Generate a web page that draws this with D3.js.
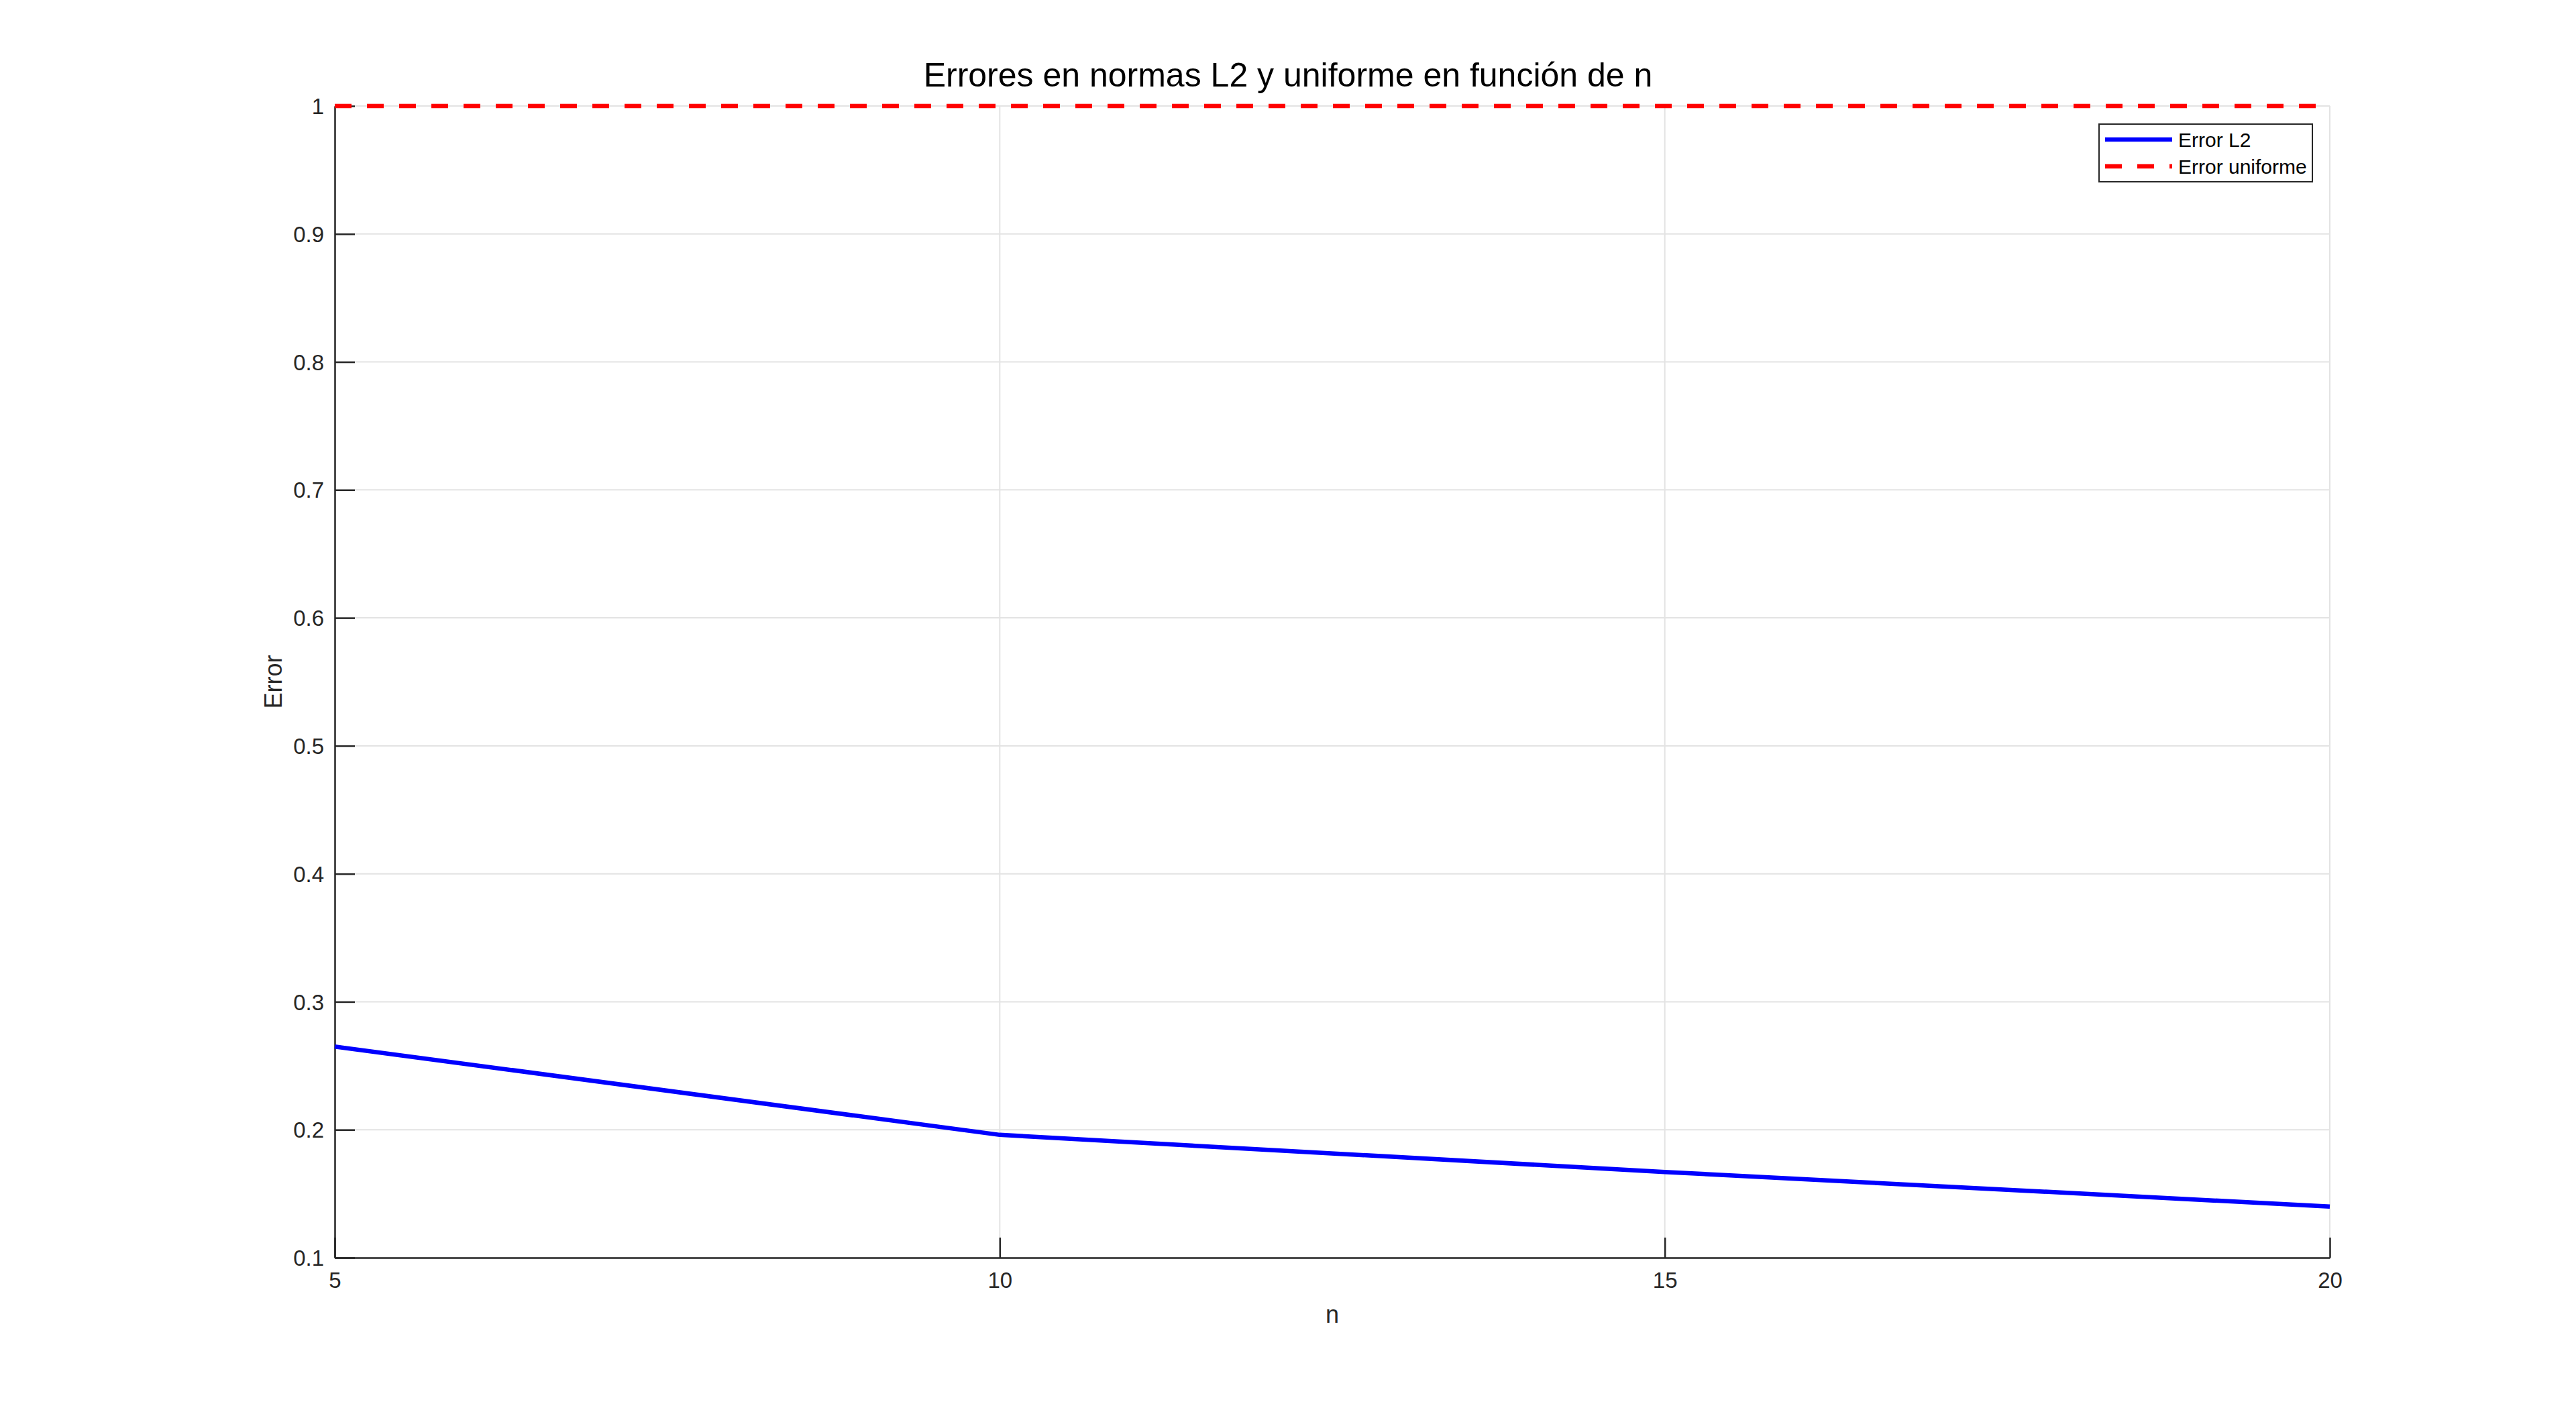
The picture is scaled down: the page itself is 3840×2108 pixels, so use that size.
<!DOCTYPE html>
<html>
<head>
<meta charset="utf-8">
<script src="https://cdn.jsdelivr.net/npm/d3@7"></script>
<style>
  body { margin: 0; background: #fff; }
  text { font-family: "Liberation Sans", Arial, sans-serif; fill: #262626; }
</style>
</head>
<body>
<svg id="chart" width="3840" height="2108"></svg>
<script>
const nValues = [5, 10, 15, 20];
const errorL2 = [0.265, 0.196, 0.167, 0.140];
const errorUniforme = [1, 1, 1, 1];
const xTicks = [5, 10, 15, 20];
const yTicks = [0.1, 0.2, 0.3, 0.4, 0.5, 0.6, 0.7, 0.8, 0.9, 1];
const seriesNames = ["Error L2", "Error uniforme"];

const svg = d3.select("#chart");
const margin = { left: 499, right: 3840 - 3473, top: 158, bottom: 2108 - 1875 };
const W = 3840, H = 2108;

const x = d3.scaleLinear().domain([5, 20]).range([margin.left, W - margin.right]);
const y = d3.scaleLinear().domain([0.1, 1]).range([H - margin.bottom, margin.top]);

// grid
svg.append("g")
  .selectAll("line")
  .data(xTicks)
  .enter()
  .append("line")
  .attr("x1", (d) => x(d))
  .attr("x2", (d) => x(d))
  .attr("y1", y(0.1))
  .attr("y2", y(1))
  .style("stroke", "#e3e3e3")
  .style("stroke-width", 2);

svg.append("g")
  .selectAll("line")
  .data(yTicks)
  .enter()
  .append("line")
  .attr("x1", x(5))
  .attr("x2", x(20))
  .attr("y1", (d) => y(d))
  .attr("y2", (d) => y(d))
  .style("stroke", "#e3e3e3")
  .style("stroke-width", 2);

// axes
const xAxis = d3.axisBottom(x).tickValues(xTicks).tickSizeInner(-30).tickSizeOuter(0).tickPadding(22);
const yAxis = d3.axisLeft(y).tickValues(yTicks).tickSizeInner(-30).tickSizeOuter(0).tickPadding(16)
  .tickFormat((d) => (d === 1 ? "1" : d3.format(".1f")(d)));

const gx = svg.append("g").attr("transform", `translate(0, ${y(0.1)})`).call(xAxis);
const gy = svg.append("g").attr("transform", `translate(${x(5)}, 0)`).call(yAxis);

[gx, gy].forEach((g) => {
  g.select(".domain").style("stroke", "#262626").style("stroke-width", 2.5);
  g.selectAll(".tick line").style("stroke", "#262626").style("stroke-width", 2.5);
  g.selectAll(".tick text").style("font-size", "33px").style("fill", "#262626")
    .style("font-family", "'Liberation Sans', Arial, sans-serif");
});
gy.selectAll(".tick text").attr("dy", "0.35em");

// lines
const line = d3.line().x((d) => x(d[0])).y((d) => y(d[1]));

svg.append("path")
  .datum(nValues.map((n, i) => [n, errorL2[i]]))
  .attr("d", line)
  .style("fill", "none")
  .style("stroke", "#0000ff")
  .style("stroke-width", 6.5);

svg.append("path")
  .datum(nValues.map((n, i) => [n, errorUniforme[i]]))
  .attr("d", line)
  .style("fill", "none")
  .style("stroke", "#ff0000")
  .style("stroke-width", 6.5)
  .style("stroke-dasharray", "25,23");

// title and labels
svg.append("text")
  .attr("x", 1920)
  .attr("y", 129)
  .attr("text-anchor", "middle")
  .style("font-size", "50px")
  .style("fill", "#000")
  .text("Errores en normas L2 y uniforme en función de n");

svg.append("text")
  .attr("x", (x(5) + x(20)) / 2)
  .attr("y", 1972)
  .attr("text-anchor", "middle")
  .style("font-size", "36px")
  .text("n");

svg.append("text")
  .attr("transform", `translate(420, ${(y(0.1) + y(1)) / 2}) rotate(-90)`)
  .attr("text-anchor", "middle")
  .style("font-size", "36px")
  .text("Error");

// legend
const legend = svg.append("g").attr("transform", "translate(3129, 185)");
legend.append("rect")
  .attr("width", 318)
  .attr("height", 86)
  .style("fill", "#fff")
  .style("stroke", "#262626")
  .style("stroke-width", 2);

const legendRows = legend.selectAll("g.row")
  .data(seriesNames)
  .enter()
  .append("g")
  .attr("class", "row")
  .attr("transform", (d, i) => `translate(0, ${23 + i * 40})`);

legendRows.append("line")
  .attr("x1", 9)
  .attr("x2", 109)
  .style("stroke", (d, i) => (i === 0 ? "#0000ff" : "#ff0000"))
  .style("stroke-width", 6.5)
  .style("stroke-dasharray", (d, i) => (i === 0 ? null : "25,23"));

legendRows.append("text")
  .attr("x", 118)
  .attr("dy", "0.35em")
  .style("font-size", "30px")
  .style("fill", "#000")
  .text((d) => d);
</script>
</body>
</html>
